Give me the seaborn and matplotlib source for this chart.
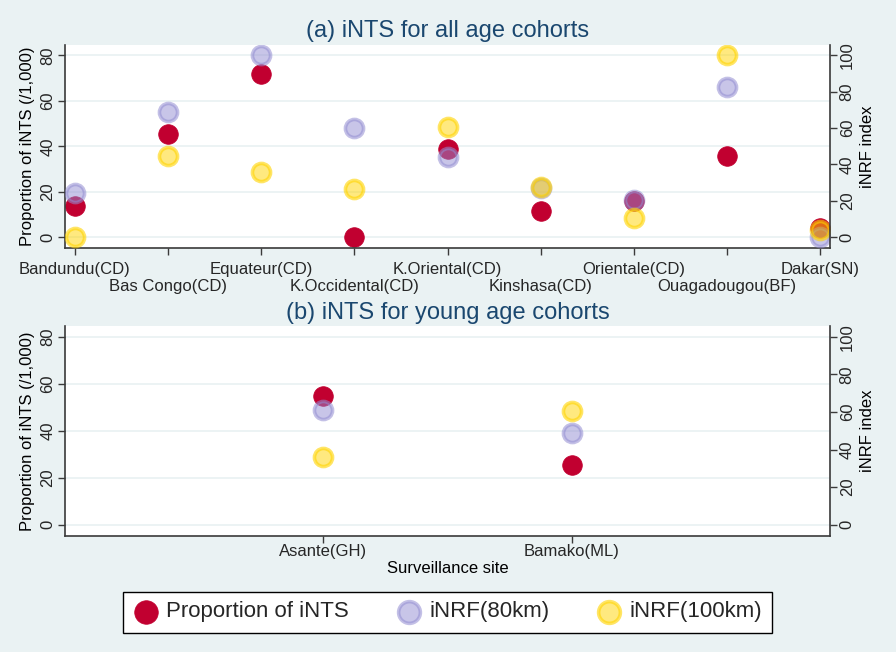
import matplotlib
matplotlib.use("Agg")
import matplotlib.pyplot as plt
import seaborn as sns
from matplotlib.colors import to_rgba

# data
sites_all = ["Bandundu(CD)", "Bas Congo(CD)", "Equateur(CD)", "K.Occidental(CD)",
             "K.Oriental(CD)", "Kinshasa(CD)", "Orientale(CD)", "Ouagadougou(BF)", "Dakar(SN)"]
prop_all = [13.7, 45.3, 71.9, 0.0, 38.8, 11.5, 15.9, 35.6, 4.1]
inrf80_all = [24.1, 68.6, 100.0, 60.3, 44.3, 26.9, 20.2, 82.9, 0.0]
inrf100_all = [0.0, 44.7, 36.0, 26.3, 60.7, 27.6, 10.6, 100.0, 3.9]

sites_young = ["Asante(GH)", "Bamako(ML)"]
prop_young = [54.7, 25.5]
inrf80_young = [61.1, 49.0]
inrf100_young = [36.3, 60.5]

left_ticks = [0, 20, 40, 60, 80]
right_ticks = [0, 20, 40, 60, 80, 100]

BG = "#eaf2f3"
NAVY = "#1a476f"
RED = "#c10030"
LAV = "#938dd2"
GOLD = "#ffd400"
AXC = "#3a3a3a"

sns.set_theme(style="white")
plt.rcParams["font.family"] = ["Liberation Sans", "DejaVu Sans"]

fig = plt.figure(figsize=(8.96, 6.52), dpi=100, facecolor=BG)

W, H = 896, 652


def make_axes(top, bottom):
    return fig.add_axes([65 / W, 1 - bottom / H, 765 / W, (bottom - top) / H])


def style_axes(ax, ax2):
    for a in (ax, ax2):
        a.set_facecolor("none")
    ax.set_facecolor("white")
    ax.spines["top"].set_visible(False)
    ax.spines["right"].set_visible(False)
    for s in ("top", "left", "bottom"):
        ax2.spines[s].set_visible(False)
    for s in ("left", "bottom"):
        ax.spines[s].set_color(AXC)
        ax.spines[s].set_linewidth(1.2)
    ax2.spines["right"].set_color(AXC)
    ax2.spines["right"].set_linewidth(1.2)
    ax.set_ylim(-4.8, 84.6)
    ax2.set_ylim(-6.0, 105.75)
    ax.set_yticks(left_ticks)
    ax2.set_yticks(right_ticks)
    ax.yaxis.grid(True, color=BG, lw=1.3)
    ax.xaxis.grid(False)
    ax2.grid(False)
    ax.tick_params(axis="y", labelrotation=90, length=5, width=1, color=AXC,
                   labelsize=12, pad=2, left=True)
    ax2.tick_params(axis="y", labelrotation=90, length=5, width=1, color=AXC,
                    labelsize=12, pad=2, right=True)
    for lab in ax.get_yticklabels():
        lab.set_va("center")
    for lab in ax2.get_yticklabels():
        lab.set_va("center")
    ax.set_ylabel("Proportion of iNTS (/1,000)", fontsize=12, labelpad=4, color="black")
    ax2.set_ylabel("iNRF index", fontsize=12, labelpad=4, color="black")


def draw_points(ax, ax2, sites, prop, i80, i100):
    sns.scatterplot(x=sites, y=prop, ax=ax, s=200, facecolor=RED, edgecolor=RED,
                    linewidth=0.5, label="Proportion of iNTS", legend=False)
    sns.scatterplot(x=sites, y=i80, ax=ax2, s=170, facecolor=to_rgba(LAV, 0.5),
                    edgecolor=to_rgba(LAV, 0.55), linewidth=2.6, label="iNRF(80km)", legend=False)
    sns.scatterplot(x=sites, y=i100, ax=ax2, s=170, facecolor=to_rgba(GOLD, 0.5),
                    edgecolor=to_rgba(GOLD, 0.6), linewidth=2.6, label="iNRF(100km)", legend=False)


# (a) all age cohorts
ax_a = make_axes(45, 248)
ax_a2 = ax_a.twinx()
draw_points(ax_a, ax_a2, sites_all, prop_all, inrf80_all, inrf100_all)
style_axes(ax_a, ax_a2)
ax_a.set_xlim(-0.107, len(sites_all) - 1 + 0.107)
even = list(range(0, len(sites_all), 2))
odd = list(range(1, len(sites_all), 2))
ax_a.set_xticks(even, [sites_all[i] for i in even])
ax_a.set_xticks(odd, [sites_all[i] for i in odd], minor=True)
ax_a.tick_params(axis="x", which="major", length=5, width=1, color=AXC,
                 labelsize=12, pad=5, bottom=True)
ax_a.tick_params(axis="x", which="minor", length=5, width=1, color=AXC,
                 labelsize=12, pad=17, bottom=True)
ax_a.set_xlabel("")
ax_a2.set_xlabel("")

# (b) young age cohorts
ax_b = make_axes(326, 536)
ax_b2 = ax_b.twinx()
draw_points(ax_b, ax_b2, sites_young, prop_young, inrf80_young, inrf100_young)
style_axes(ax_b, ax_b2)
ax_b.set_xlim(-1.04, len(sites_young) - 1 + 1.04)
ax_b.set_xticks(range(len(sites_young)), sites_young)
ax_b.tick_params(axis="x", length=5, width=1, color=AXC, labelsize=12, pad=1, bottom=True)
ax_b.set_xlabel("Surveillance site", fontsize=12, labelpad=1, color="black")
ax_b2.set_xlabel("")

fig.text(447.5 / W, 1 - 31.5 / H, "(a) iNTS for all age cohorts", ha="center", va="center",
         fontsize=17, color=NAVY)
fig.text(447.5 / W, 1 - 312.5 / H, "(b) iNTS for young age cohorts", ha="center", va="center",
         fontsize=17, color=NAVY)

handles = [h for h in ax_a.collections + ax_a2.collections]
labels = [h.get_label() for h in handles]
leg = fig.legend(handles, labels, loc="center", bbox_to_anchor=(447.5 / W, 1 - 612 / H),
                 ncol=3, fontsize=16, markerscale=1.2, frameon=True, fancybox=False,
                 edgecolor="black", facecolor="white", framealpha=1, borderpad=0.45,
                 columnspacing=2.1, handletextpad=0.3, handlelength=1.2)
leg.get_frame().set_linewidth(1.0)

fig.savefig("out.png", dpi=100, facecolor=BG)
